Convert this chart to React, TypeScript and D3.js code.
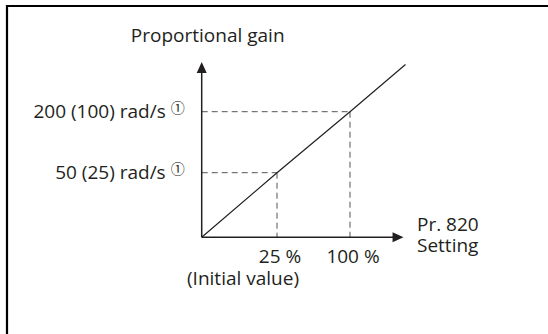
import React from "react";
import * as d3 from "d3";

const settingTicks = [25, 100];
const settingLabels = ["25 %", "100 %"];
const gainTicks = [50, 200];
const gainLabels = ["50 (25) rad/s", "200 (100) rad/s"];
const lineSetting = [0, 25, 100, 157];
const lineGain = [0, 50, 200, 316];
const xAxisMax = 155;
const yAxisMax = 322;

const W = 548;
const H = 334;
const FONT = "'Open Sans', 'Noto Sans', sans-serif";

export default function App() {
  const x = d3.scaleLinear().domain([0, 25, 100]).range([201.7, 277, 350]);
  const y = d3.scaleLinear().domain([0, 50, 200]).range([237.3, 172.7, 111.7]);
  const pts = lineSetting.map((v, i) => [x(v), y(lineGain[i])] as [number, number]);
  const line = d3.line()(pts) || "";
  const x0 = x(0);
  const y0 = y(0);
  const xTip = x(xAxisMax);
  const yTip = y(yAxisMax);
  const ink = "#231f20";
  const fs = 19;
  return (
    <svg width={W} height={H} style={{ position: "absolute", left: 0, top: 0 }} fontFamily={FONT}>
      <rect x={0} y={0} width={W} height={H} fill="#fff" />
      <path d={`M7,${H} V6 H${W}`} fill="none" stroke="#000" strokeWidth={2.2} />
      {/* dashed guides */}
      {settingTicks.map((s, i) => (
        <g key={s}>
          <line x1={x0} x2={x(s)} y1={y(gainTicks[i])} y2={y(gainTicks[i])} stroke="#555" strokeWidth={1} strokeDasharray="6,4" />
          <line x1={x(s)} x2={x(s)} y1={y(gainTicks[i])} y2={y0} stroke="#555" strokeWidth={1} strokeDasharray="6,4" />
        </g>
      ))}
      {/* axes */}
      <line x1={x0} x2={x0} y1={y0} y2={yTip + 8} stroke={ink} strokeWidth={1.5} />
      <line x1={x0} x2={xTip - 8} y1={y0} y2={y0} stroke={ink} strokeWidth={1.5} />
      <path d={`M${x0},${yTip} L${x0 - 5},${yTip + 11} L${x0 + 5},${yTip + 11} Z`} fill={ink} />
      <path d={`M${xTip},${y0} L${xTip - 11},${y0 - 5} L${xTip - 11},${y0 + 5} Z`} fill={ink} />
      {/* line */}
      <path d={line} fill="none" stroke={ink} strokeWidth={1.2} />
      {/* y labels */}
      {gainTicks.map((g, i) => (
        <g key={g}>
          <text x={x0 - 36} y={y(g) + 6} textAnchor="end" fontSize={fs} fill={ink}>
            {gainLabels[i]}
          </text>
          <text x={x0 - 31} y={y(g) + 1.5} fontSize={14} fill={ink} fontFamily="'Noto Sans CJK JP', sans-serif">
            ①
          </text>
        </g>
      ))}
      {/* x labels */}
      {settingTicks.map((s, i) => (
        <text key={s} x={x(s) + 3} y={y0 + 26} textAnchor="middle" fontSize={fs} fill={ink}>
          {settingLabels[i]}
        </text>
      ))}
      <text x={x(25) + 22} y={y0 + 48} textAnchor="end" fontSize={fs} fill={ink}>
        (Initial value)
      </text>
      <text x={417} y={y0 - 6.5} fontSize={fs} fill={ink}>Pr. 820</text>
      <text x={417} y={y0 + 14.5} fontSize={fs} fill={ink}>Setting</text>
      <text x={x0 + 6} y={41.7} textAnchor="middle" fontSize={fs} fill={ink}>
        Proportional gain
      </text>
    </svg>
  );
}
